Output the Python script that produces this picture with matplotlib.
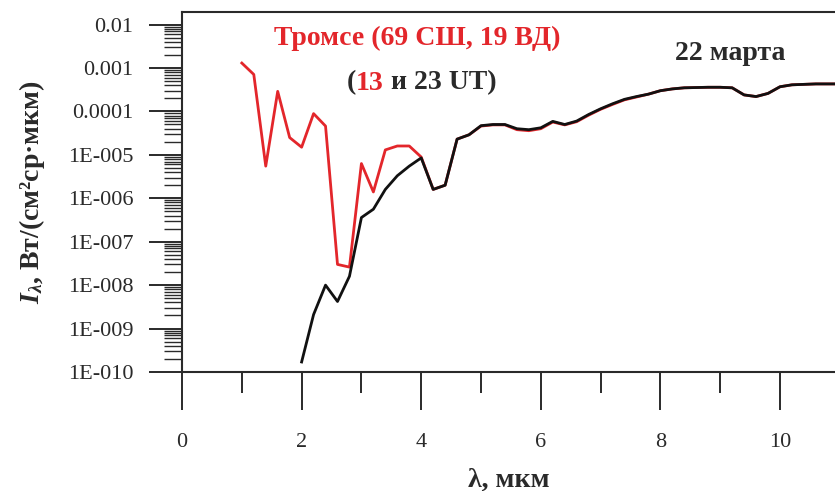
import numpy as np
import matplotlib.pyplot as plt
from matplotlib.ticker import FixedLocator, FixedFormatter, LogLocator, MultipleLocator, NullFormatter

plt.rcParams['font.family'] = ['Liberation Serif', 'DejaVu Serif']
plt.rcParams['mathtext.fontset'] = 'custom'
plt.rcParams['mathtext.rm'] = 'Liberation Serif:bold'
plt.rcParams['mathtext.it'] = 'Liberation Serif:italic:bold'
plt.rcParams['mathtext.bf'] = 'Liberation Serif:bold'

# wavelength, um
red_x = [1.0, 1.2, 1.4, 1.6, 1.8, 2.0, 2.2, 2.4, 2.6, 2.8, 3.0, 3.2, 3.4, 3.6, 3.8, 4.0,
         4.2, 4.4, 4.6, 4.8, 5.0, 5.2, 5.4, 5.6, 5.8, 6.0, 6.2, 6.4, 6.6, 6.8, 7.0,
         7.2, 7.4, 7.6, 7.8, 8.0, 8.2, 8.4, 8.6, 8.8, 9.0, 9.2, 9.4, 9.6, 9.8, 10.0,
         10.2, 10.4, 10.6, 10.8, 11.0]
red_y = [1.3e-3, 7.1e-4, 5.5e-6, 2.9e-4, 2.5e-5, 1.5e-5, 8.9e-5, 4.6e-5, 3.0e-8, 2.6e-8,
         6.3e-6, 1.4e-6, 1.3e-5, 1.6e-5, 1.6e-5, 8.9e-6,
         1.6e-6, 2.0e-6, 2.3e-5, 2.9e-5, 4.6e-5, 4.9e-5, 4.9e-5, 3.8e-5, 3.6e-5, 4.0e-5,
         5.7e-5, 4.9e-5, 5.8e-5, 8.2e-5, 1.12e-4, 1.45e-4, 1.85e-4, 2.15e-4, 2.5e-4,
         3.0e-4, 3.3e-4, 3.5e-4, 3.55e-4, 3.6e-4, 3.6e-4, 3.5e-4, 2.4e-4, 2.2e-4,
         2.6e-4, 3.7e-4, 4.1e-4, 4.2e-4, 4.3e-4, 4.3e-4, 4.3e-4]

black_x = [2.0, 2.2, 2.4, 2.6, 2.8, 3.0, 3.2, 3.4, 3.6, 3.8, 4.0,
           4.2, 4.4, 4.6, 4.8, 5.0, 5.2, 5.4, 5.6, 5.8, 6.0, 6.2, 6.4, 6.6, 6.8, 7.0,
           7.2, 7.4, 7.6, 7.8, 8.0, 8.2, 8.4, 8.6, 8.8, 9.0, 9.2, 9.4, 9.6, 9.8, 10.0,
           10.2, 10.4, 10.6, 10.8, 11.0]
black_y = [1.7e-10, 2.1e-9, 1.0e-8, 4.2e-9, 1.6e-8, 3.6e-7, 5.6e-7, 1.6e-6, 3.3e-6, 5.5e-6, 8.5e-6,
           1.6e-6, 2.0e-6, 2.3e-5, 2.9e-5, 4.7e-5, 5.0e-5, 5.0e-5, 4.0e-5, 3.8e-5, 4.2e-5,
           5.9e-5, 5.0e-5, 6.0e-5, 8.5e-5, 1.15e-4, 1.5e-4, 1.9e-4, 2.2e-4, 2.5e-4,
           3.0e-4, 3.3e-4, 3.5e-4, 3.55e-4, 3.6e-4, 3.6e-4, 3.5e-4, 2.4e-4, 2.2e-4,
           2.6e-4, 3.7e-4, 4.1e-4, 4.2e-4, 4.3e-4, 4.3e-4, 4.3e-4]

ytick_vals = [1e-10, 1e-9, 1e-8, 1e-7, 1e-6, 1e-5, 1e-4, 1e-3, 1e-2]
ytick_labels = ['1E-010', '1E-009', '1E-008', '1E-007', '1E-006', '1E-005', '0.0001', '0.001', '0.01']
xtick_vals = [0, 2, 4, 6, 8, 10]

red = '#e3262b'
ink = '#2a2a2a'

fig = plt.figure(figsize=(8.35, 4.91), dpi=100)
ax = fig.add_axes([0.218, 0.2424, 0.782, 0.7332])

ax.plot(red_x, red_y, color=red, lw=2.0)
ax.plot(black_x, black_y, color='#111111', lw=2.0)

ax.set_yscale('log')
ax.set_xlim(0, 10.92)
ax.set_ylim(1e-10, 1.95e-2)

ax.yaxis.set_major_locator(FixedLocator(ytick_vals))
ax.yaxis.set_major_formatter(FixedFormatter(ytick_labels))
ax.yaxis.set_minor_locator(LogLocator(base=10, subs=np.arange(2, 10), numticks=20))
ax.yaxis.set_minor_formatter(NullFormatter())
ax.xaxis.set_major_locator(FixedLocator(xtick_vals))
ax.xaxis.set_minor_locator(MultipleLocator(1))

ax.tick_params(axis='y', which='major', direction='out', length=24, width=1.4, pad=11,
               labelsize=16, colors=ink)
ax.tick_params(axis='y', which='minor', direction='out', length=13, width=1.0, colors=ink)
ax.tick_params(axis='x', which='major', direction='out', length=27, width=1.4, pad=17,
               labelsize=16, colors=ink)
ax.tick_params(axis='x', which='minor', direction='out', length=15, width=1.4, colors=ink)

for s in ['left', 'bottom', 'top']:
    ax.spines[s].set_color(ink)
    ax.spines[s].set_linewidth(1.5)
ax.spines['right'].set_visible(False)

ax.set_xlabel('λ, мкм', fontsize=20, fontweight='bold', color=ink, labelpad=11)
ax.set_ylabel(r'$I_{\lambda}$, Вт/(см²ср·мкм)', fontsize=20, fontweight='bold', color=ink,
              labelpad=15)

fig.text(417 / 835, 1 - 38 / 491, 'Тромсе (69 СШ, 19 ВД)', color=red, fontsize=20,
         fontweight='bold', ha='center', va='center')
t1 = fig.text(347 / 835, 1 - 83 / 491, '(', color=ink, fontsize=20, fontweight='bold',
              ha='left', va='center')
t2 = ax.annotate('13', xy=(1, 0), xycoords=t1, va='bottom', color=red, fontsize=20,
                 fontweight='bold')
ax.annotate(' и 23 UT)', xy=(1, 0), xycoords=t2, va='bottom', color=ink, fontsize=20,
            fontweight='bold')
fig.text(730 / 835, 1 - 53 / 491, '22 марта', color=ink, fontsize=20, fontweight='bold',
         ha='center', va='center')

fig.savefig('out.png', dpi=100)
